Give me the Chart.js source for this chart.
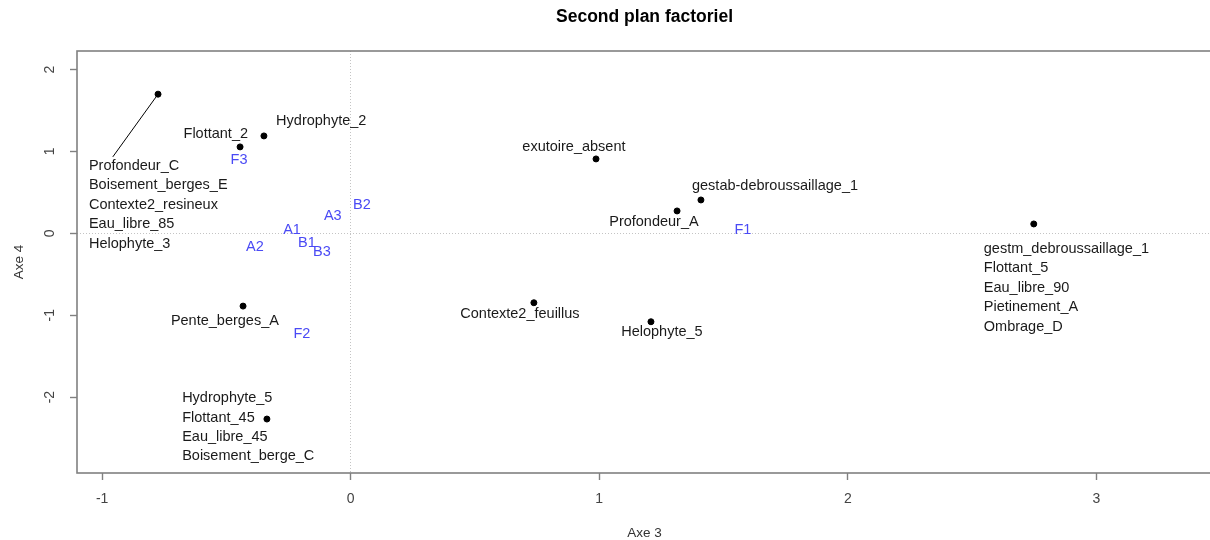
<!DOCTYPE html>
<html lang="fr">
<head>
  <meta charset="UTF-8">
  <title>Second plan factoriel</title>
  <script src="https://cdn.jsdelivr.net/npm/chart.js"></script>
  <style>
    body {
      margin: 0;
      background: #fff;
      overflow: hidden;
    }
    #wrap {
      width: 1230px;
      height: 540px;
    }
  </style>
</head>
<body>
  <div id="wrap">
    <canvas id="plan" width="1230" height="540"></canvas>
  </div>

  <script>
    // modalites actives (points noirs) : coordonnees sur les axes 3 et 4
    const groupNames = [
      ['Profondeur_C', 'Boisement_berges_E', 'Contexte2_resineux', 'Eau_libre_85', 'Helophyte_3'],
      ['Hydrophyte_2'],
      ['Flottant_2'],
      ['exutoire_absent'],
      ['gestab-debroussaillage_1'],
      ['Profondeur_A'],
      ['gestm_debroussaillage_1', 'Flottant_5', 'Eau_libre_90', 'Pietinement_A', 'Ombrage_D'],
      ['Contexte2_feuillus'],
      ['Helophyte_5'],
      ['Pente_berges_A'],
      ['Hydrophyte_5', 'Flottant_45', 'Eau_libre_45', 'Boisement_berge_C']
    ];
    const axe3 = [-0.775, -0.349, -0.445, 0.987, 1.409, 1.313, 2.748, 0.737, 1.208, -0.433, -0.337];
    const axe4 = [1.699, 1.189, 1.055, 0.908, 0.407, 0.273, 0.114, -0.848, -1.080, -0.889, -2.268];

    // ou sont ecrites les etiquettes (unites des axes)
    const labelX = [-1.053, -0.300, -0.413, 0.898, 1.373, 1.220, 2.547, 0.681, 1.252, -0.506, -0.678];
    const labelY = [0.822, 1.372, 1.214, 1.055, 0.578, 0.138, -0.192, -0.987, -1.207, -1.072, -2.013];

    // trait entre Profondeur_C... et son point
    const leaderEnd = [-0.957, 0.933];

    // modalites supplementaires (texte bleu)
    const supNames = ['A1', 'A2', 'A3', 'B1', 'B2', 'B3', 'F1', 'F2', 'F3'];
    const supX = [-0.236, -0.385, -0.072, -0.176, 0.045, -0.116, 1.578, -0.196, -0.449];
    const supY = [0.040, -0.167, 0.212, -0.119, 0.346, -0.229, 0.040, -1.232, 0.896];

    const xTicks = [-1, 0, 1, 2, 3];
    const yTicks = [-2, -1, 0, 1, 2];

    const labelAlign = ['left', 'left', 'right', 'center', 'left', 'center', 'left', 'center', 'center', 'center', 'left'];
    const FONT = '"Liberation Sans", Arial, sans-serif';

    const planLabels = {
      id: 'planLabels',
      afterDatasetsDraw(chart) {
        const { ctx, scales: { x, y } } = chart;
        ctx.save();
        ctx.textBaseline = 'middle';
        ctx.font = '14.5px ' + FONT;
        ctx.fillStyle = '#1a1a1a';
        groupNames.forEach((lines, i) => {
          ctx.textAlign = labelAlign[i];
          const px = x.getPixelForValue(labelX[i]);
          const py = y.getPixelForValue(labelY[i]);
          lines.forEach((t, k) => ctx.fillText(t, px, py + k * 19.4));
        });
        ctx.textAlign = 'center';
        ctx.fillStyle = '#4a4af5';
        supNames.forEach((t, i) => {
          ctx.fillText(t, x.getPixelForValue(supX[i]), y.getPixelForValue(supY[i]));
        });
        ctx.restore();
      },
      afterDraw(chart) {
        const { ctx, chartArea: a } = chart;
        ctx.save();
        ctx.strokeStyle = '#808080';
        ctx.lineWidth = 1.6;
        ctx.strokeRect(a.left, a.top, a.right - a.left, a.bottom - a.top);
        ctx.restore();
      }
    };

    // seule la ligne du zero est visible, en pointille
    const zeroGrid = {
      color: ctx => (ctx.tick && ctx.tick.value === 0) ? '#c4c4c4' : 'rgba(0,0,0,0)',
      lineWidth: 1,
      tickColor: '#808080',
      tickBorderDash: [10, 0],
      tickLength: 7,
      tickWidth: 1.4
    };
    const noBorder = { display: false, dash: [1, 2] };

    new Chart(document.getElementById('plan'), {
      type: 'scatter',
      data: {
        datasets: [{
          data: axe3.map((v, i) => ({ x: v, y: axe4[i] })),
          backgroundColor: '#000',
          borderColor: '#000',
          pointRadius: 3,
          pointHoverRadius: 3
        }, {
          type: 'line',
          data: [{ x: axe3[0], y: axe4[0] }, { x: leaderEnd[0], y: leaderEnd[1] }],
          borderColor: '#000',
          borderWidth: 1,
          pointRadius: 0,
          fill: false
        }]
      },
      options: {
        responsive: false,
        animation: false,
        layout: { padding: { left: 0, right: 18, top: 0, bottom: 0 } },
        plugins: {
          legend: { display: false },
          tooltip: { enabled: false },
          title: {
            display: true,
            text: 'Second plan factoriel',
            fullSize: false,
            color: '#000',
            font: { family: FONT, size: 17.5, weight: 'bold', lineHeight: 1.2 },
            padding: { top: 6.5, bottom: 23.5 }
          }
        },
        scales: {
          x: {
            type: 'linear',
            min: -1.101,
            max: 3.465,
            afterBuildTicks: s => { s.ticks = xTicks.map(v => ({ value: v })); },
            afterFit: s => { s.height = 67; },
            grid: zeroGrid,
            border: noBorder,
            ticks: {
              autoSkip: false,
              maxRotation: 0,
              padding: 11,
              color: '#444',
              font: { family: FONT, size: 14 }
            },
            title: {
              display: true,
              text: 'Axe 3',
              color: '#333',
              font: { family: FONT, size: 13.5, lineHeight: 1 },
              padding: { top: 0, bottom: 0 }
            }
          },
          y: {
            type: 'linear',
            min: -2.927,
            max: 2.226,
            afterBuildTicks: s => { s.ticks = yTicks.map(v => ({ value: v })); },
            afterFit: s => { s.width = 77; },
            grid: zeroGrid,
            border: noBorder,
            ticks: {
              autoSkip: false,
              minRotation: 90,
              maxRotation: 90,
              crossAlign: 'center',
              padding: 14,
              color: '#444',
              font: { family: FONT, size: 14 }
            },
            title: {
              display: true,
              text: 'Axe 4',
              color: '#333',
              font: { family: FONT, size: 13.5, lineHeight: 1 },
              padding: { top: 13, bottom: 0 }
            }
          }
        }
      },
      plugins: [planLabels]
    });
  </script>
</body>
</html>
